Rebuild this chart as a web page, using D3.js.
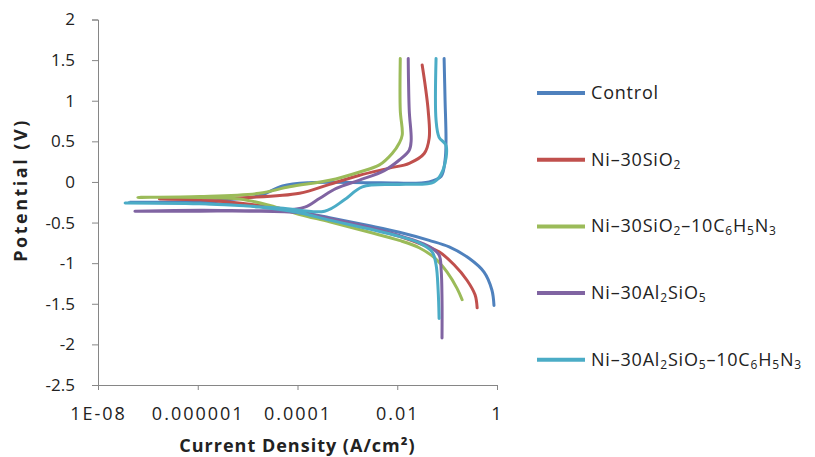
<!DOCTYPE html>
<html><head><meta charset="utf-8">
<script src="https://cdn.jsdelivr.net/npm/d3@7"></script>
<style>body{margin:0;background:#fff} svg{display:block}</style>
</head><body><svg id="c" width="815" height="457"></svg>
<script>
const seriesNames = ["Control","Ni–30SiO_2","Ni–30SiO_2–10C_6H_5N_3","Ni–30Al_2SiO_5","Ni–30Al_2SiO_5–10C_6H_5N_3"];
const seriesColors = ["#4F81BD","#C0504D","#9BBB59","#8064A2","#4BACC6"];

const controlCurrent = [0.87,0.79,0.55,0.275,0.11,0.0437,0.011,0.0028,4.4e-4,1.1e-4,1.7e-5,1.1e-6,4.2e-8,1.1e-6,1.7e-5,5e-5,1.7e-4,4.4e-3,0.0437,0.076,0.091,0.095,0.091,0.087];
const controlPotential = [-1.52,-1.33,-1.11,-0.94,-0.80,-0.72,-0.62,-0.54,-0.44,-0.37,-0.30,-0.26,-0.25,-0.24,-0.17,-0.05,-0.01,-0.01,0.0,0.07,0.27,0.51,1.0,1.52];

const sio2Current = [0.4,0.363,0.25,0.138,0.069,0.0347,0.011,0.0028,4.4e-4,1.1e-4,1.7e-5,1.1e-6,1.7e-7,1.1e-6,1.1e-5,1.1e-4,4.4e-4,1.7e-3,6.9e-3,0.0174,0.0347,0.0437,0.0417,0.0363,0.0316];
const sio2Potential = [-1.55,-1.39,-1.21,-1.02,-0.86,-0.78,-0.67,-0.57,-0.46,-0.37,-0.29,-0.22,-0.21,-0.20,-0.19,-0.14,-0.03,0.08,0.17,0.23,0.35,0.54,0.88,1.19,1.44];

const sio2BtaCurrent = [0.2,0.158,0.1,0.0575,0.0275,0.011,0.0028,4.4e-4,1.1e-4,2.8e-5,6.9e-6,1.1e-6,6.3e-8,1.1e-6,1.7e-5,6.9e-5,4.4e-4,1.7e-3,4.4e-3,7.9e-3,0.011,0.0126,0.0115,0.0115];
const sio2BtaPotential = [-1.45,-1.31,-1.11,-0.94,-0.81,-0.72,-0.62,-0.49,-0.40,-0.29,-0.21,-0.19,-0.19,-0.18,-0.14,-0.06,0.02,0.12,0.21,0.35,0.48,0.58,0.88,1.52];

const al2sio5Current = [0.079,0.079,0.076,0.069,0.0479,0.0275,0.011,0.0028,4.4e-4,1.1e-4,1.1e-5,1.1e-6,5.5e-8,1.1e-6,4.4e-5,1.4e-4,2.8e-4,6e-4,1.7e-3,5.5e-3,0.011,0.0174,0.019,0.0174,0.0166];
const al2sio5Potential = [-1.92,-1.45,-1.09,-0.90,-0.81,-0.74,-0.66,-0.56,-0.45,-0.38,-0.36,-0.36,-0.36,-0.35,-0.35,-0.31,-0.20,-0.08,0.02,0.14,0.27,0.39,0.51,0.88,1.52];

const al2sio5BtaCurrent = [0.069,0.066,0.06,0.05,0.0275,0.011,0.0028,4.4e-4,1.1e-4,1.7e-5,1.1e-6,3.5e-8,1.1e-6,4.4e-5,3.5e-4,8.7e-4,2e-3,0.011,0.055,0.083,0.095,0.069,0.06,0.06];
const al2sio5BtaPotential = [-1.68,-1.33,-1.02,-0.86,-0.75,-0.67,-0.58,-0.47,-0.38,-0.31,-0.27,-0.26,-0.27,-0.32,-0.36,-0.22,-0.06,-0.03,0.0,0.15,0.45,0.55,0.76,1.52];

const xTickValues = [1e-8,1e-6,1e-4,1e-2,1];
const xTickLabels = ["1E-08","0.000001","0.0001","0.01","1"];
const yTickValues = [-2.5,-2,-1.5,-1,-0.5,0,0.5,1,1.5,2];
const yTickLabels = ["-2.5","-2","-1.5","-1","-0.5","0","0.5","1","1.5","2"];
const xTitle = "Current Density (A/cm²)";
const yTitle = "Potential (V)";

const currents = [controlCurrent,sio2Current,sio2BtaCurrent,al2sio5Current,al2sio5BtaCurrent];
const potentials = [controlPotential,sio2Potential,sio2BtaPotential,al2sio5Potential,al2sio5BtaPotential];

const FONT = "'Open Sans', sans-serif";
const svg = d3.select("#c");
const plot = {left:98, right:497, top:19.5, bottom:385};
const x = d3.scaleLog().domain([1e-8,1]).range([plot.left, plot.right]);
const y = d3.scaleLinear().domain([-2.5,2]).range([plot.bottom, plot.top]);

// axes
const yAxis = d3.axisLeft(y).tickValues(yTickValues).tickFormat((d,i)=>yTickLabels[i]).tickSize(6).tickPadding(17);
const gy = svg.append("g").attr("transform",`translate(${plot.left},0)`).call(yAxis);
const xAxis = d3.axisBottom(x).tickValues(xTickValues).tickFormat((d,i)=>xTickLabels[i]).tickSize(5).tickPadding(17);
const gx = svg.append("g").attr("transform",`translate(0,${plot.bottom})`).call(xAxis);
[gx,gy].forEach(g=>{
  g.select(".domain").attr("stroke","#868686").attr("stroke-width",1);
  g.selectAll(".tick line").attr("stroke","#868686");
  g.selectAll(".tick text").attr("fill","#222").style("font-family",FONT);
});
gy.selectAll(".tick text").style("font-size","17px");
gx.selectAll(".tick text").style("font-size","18px").style("letter-spacing","2px");

// series
const line = d3.line().x(d=>x(d[0])).y(d=>y(d[1])).curve(d3.curveCatmullRom.alpha(0.5));
currents.forEach((cur,si)=>{
  const pts = cur.map((c,i)=>[c, potentials[si][i]]);
  svg.append("path").attr("d",line(pts)).attr("fill","none")
    .attr("stroke",seriesColors[si]).attr("stroke-width",3)
    .attr("stroke-linejoin","round").attr("stroke-linecap","round");
});

// titles
svg.append("text").attr("x",(plot.left+plot.right)/2).attr("y",452)
  .attr("text-anchor","middle").style("font-family",FONT).style("font-size","18px").style("font-weight","bold")
  .style("letter-spacing","1px").attr("fill","#222").text(xTitle);
svg.append("text").attr("transform",`translate(27,190) rotate(-90)`)
  .attr("text-anchor","middle").style("font-family",FONT).style("font-size","18px").style("font-weight","bold")
  .style("letter-spacing","2.5px").attr("fill","#222").text(yTitle);

// legend
function addRich(textSel, s){
  const parts=[];
  for(let i=0;i<s.length;i++){
    if(s[i]==="_"){ parts.push({t:s[i+1],sub:true}); i++; }
    else { if(parts.length && !parts[parts.length-1].sub) parts[parts.length-1].t+=s[i]; else parts.push({t:s[i],sub:false}); }
  }
  let prevSub=false;
  parts.forEach(p=>{
    const ts=textSel.append("tspan").text(p.t);
    if(p.sub){ ts.style("font-size","12px"); if(!prevSub) ts.attr("dy",3); }
    else if(prevSub){ ts.attr("dy",-3); }
    prevSub=p.sub;
  });
}
const legY0 = 93, legStep = 66.7;
seriesNames.forEach((n,i)=>{
  const ly = legY0 + i*legStep;
  svg.append("line").attr("x1",537).attr("x2",585).attr("y1",ly).attr("y2",ly)
    .attr("stroke",seriesColors[i]).attr("stroke-width",4);
  const t = svg.append("text").attr("x",591).attr("y",ly+6)
    .style("font-family",FONT).style("font-size","18px").style("letter-spacing","0.8px").attr("fill","#222");
  addRich(t,n);
});
</script></body></html>
